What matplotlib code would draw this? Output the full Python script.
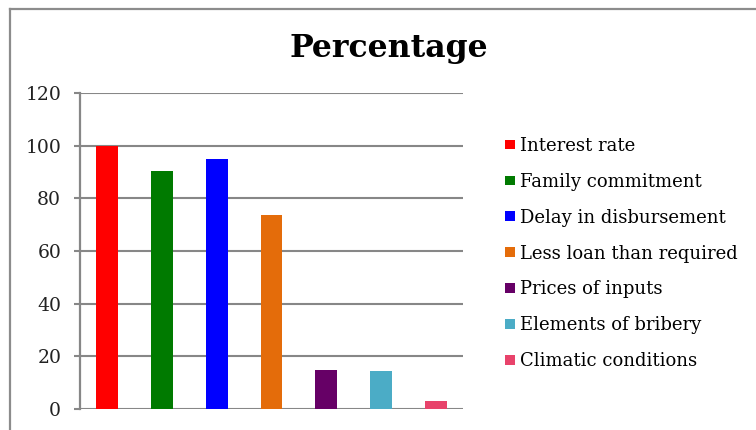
import matplotlib
matplotlib.use("Agg")
import matplotlib.pyplot as plt
from matplotlib.lines import Line2D

categories = ["Interest rate", "Family commitment", "Delay in disbursement",
              "Less loan than required", "Prices of inputs",
              "Elements of bribery", "Climatic conditions"]
values = [100, 90.5, 95, 73.5, 15, 14.5, 3]
colors = ["#FF0000", "#007A00", "#0000FF", "#E46C0A", "#660066", "#4BACC6", "#E8436B"]
yticks = [0, 20, 40, 60, 80, 100, 120]

W, H = 756, 430
fig = plt.figure(figsize=(W / 100, H / 100), dpi=100)
fig.patch.set_facecolor("white")

ax = fig.add_axes([80 / W, 1 - 409 / H, (463 - 80) / W, (409 - 93) / H])
x = list(range(len(categories)))
bars = ax.bar(x, values, width=0.4, color=colors, zorder=3)
ax.set_xlim(-0.5, len(categories) - 0.5)
ax.set_ylim(0, 120)
ax.set_yticks(yticks)
ax.set_yticklabels([str(t) for t in yticks], family="DejaVu Serif", fontsize=13.5, color="#222222")
ax.set_xticks([])
grid_c = "#878787"
ax.yaxis.grid(True, color=grid_c, linewidth=1.5, zorder=0)
ax.tick_params(axis="y", length=4.5, width=1.5, color=grid_c, pad=9)
for s in ["top", "right", "bottom"]:
    ax.spines[s].set_visible(False)
ax.spines["left"].set_color(grid_c)
ax.spines["left"].set_linewidth(1.6)
ax.set_facecolor("none")

fig.text(389 / W, 1 - 49 / H, "Percentage", ha="center", va="center",
         family="DejaVu Serif", fontweight="bold", fontsize=22.7)

leg = fig.legend(bars, categories, loc="upper left",
                 bbox_to_anchor=(505 / W, 1 - 137 / H), frameon=False,
                 prop={"family": "DejaVu Serif", "size": 13},
                 handlelength=0.55, handleheight=0.45, handletextpad=0.3,
                 labelspacing=0.99, borderaxespad=0, borderpad=0)

# outer chart border (left and top edges visible)
fig.add_artist(Line2D([10 / W, 10 / W], [0, 1 - 9 / H], transform=fig.transFigure,
                      color="#8C8C8C", linewidth=1.6))
fig.add_artist(Line2D([10 / W, 1], [1 - 9 / H, 1 - 9 / H], transform=fig.transFigure,
                      color="#8C8C8C", linewidth=1.6))

fig.savefig("out.png", dpi=100)
